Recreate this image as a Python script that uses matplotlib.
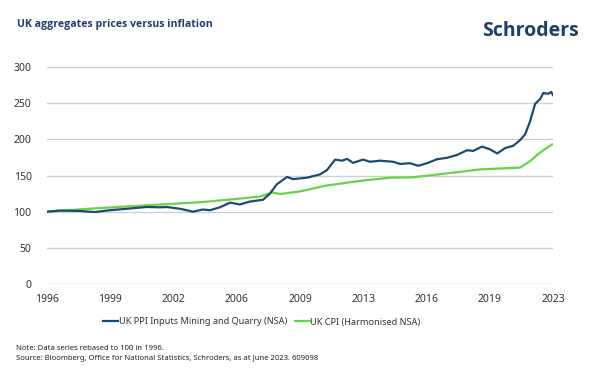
import matplotlib
matplotlib.use("Agg")
import matplotlib.pyplot as plt
import numpy as np

# ---- data (decimal years, index rebased to 100 in 1996) ----
ppi_years = [1996.00, 1996.70, 1997.79, 1998.60, 1999.41, 2000.34, 2001.42, 2002.12,
             2002.50, 2003.21, 2003.91, 2004.45, 2004.83, 2005.37, 2005.92, 2006.46,
             2007.00, 2007.71, 2008.08, 2008.46, 2009.01, 2009.33, 2010.09, 2010.79,
             2011.17, 2011.61, 2011.99, 2012.26, 2012.58, 2013.12, 2013.50, 2014.05,
             2014.75, 2015.13, 2015.67, 2016.11, 2016.59, 2017.13, 2017.68, 2018.22,
             2018.76, 2019.09, 2019.57, 2020.01, 2020.39, 2020.82, 2021.25, 2021.63,
             2021.90, 2022.17, 2022.44, 2022.72, 2022.88, 2023.15, 2023.31, 2023.42]
ppi_values = [100, 101.5, 101, 99.5, 102, 104, 106.5, 106,
              106.5, 104, 100, 103, 102, 106, 112.5, 110,
              114, 116.5, 125, 138, 148, 145, 147, 151.5,
              157.5, 172, 170.5, 173, 167.5, 172, 169, 170.5,
              169, 166, 167, 163.5, 167, 172.5, 174.5, 178.5,
              185, 184, 190, 186, 180.5, 188, 191, 199,
              207, 225, 249, 256, 264, 263, 265.5, 261]

cpi_years = [1996.00, 1998.87, 2001.20, 2004.29, 2006.03, 2007.55, 2008.20, 2008.64,
             2009.72, 2011.12, 2012.96, 2014.59, 2015.83, 2017.68, 2019.49, 2021.25,
             2021.63, 2022.17, 2022.72, 2023.36]
cpi_values = [100, 105, 108.5, 113, 117, 121, 126.5, 124.5,
              128, 136, 142.5, 147, 147.5, 153, 158.5, 160.5,
              161, 170, 182, 193]

tick_labels = ["1996", "1999", "2002", "2006", "2009", "2013", "2016", "2019", "2023"]
y_ticks = [0, 50, 100, 150, 200, 250, 300]

title = "UK aggregates prices versus inflation"
ppi_label = "UK PPI Inputs Mining and Quarry (NSA)"
cpi_label = "UK CPI (Harmonised NSA)"
note1 = "Note: Data series rebased to 100 in 1996."
note2 = "Source: Bloomberg, Office for National Statistics, Schroders, as at June 2023. 609098"

# ---- style ----
plt.rcParams['font.family'] = ['Noto Sans', 'DejaVu Sans']
bold_family = ['Open Sans', 'DejaVu Sans']
navy = "#1c3f6e"
ppi_color = "#1d4b70"
cpi_color = "#6ad14b"
text_color = "#333333"

fig = plt.figure(figsize=(6.0, 3.83), dpi=100)
ax = fig.add_axes([0.078, 0.2585, 0.844, 0.5665])

ax.plot(ppi_years, ppi_values, color=ppi_color, lw=1.6, label=ppi_label, zorder=3)
ax.plot(cpi_years, cpi_values, color=cpi_color, lw=1.6, label=cpi_label, zorder=2)

x0, x1 = ppi_years[0], ppi_years[-1]
ax.set_xlim(x0, x1)
ax.set_ylim(0, 300)
ax.set_yticks(y_ticks)
ax.set_xticks(np.linspace(x0, x1, len(tick_labels)))
ax.set_xticklabels(tick_labels)
ax.grid(axis='y', color="#d0d0d0", lw=1.0)
ax.set_axisbelow(True)
for s in ax.spines.values():
    s.set_visible(False)
ax.tick_params(axis='both', length=0, labelsize=7.5, labelcolor=text_color)
ax.tick_params(axis='y', pad=11)
ax.tick_params(axis='x', pad=7)

leg = fig.legend(loc='center', bbox_to_anchor=(262 / 600, 1 - 322 / 383), ncol=2, frameon=False,
                 fontsize=6.6, handlelength=1.6, handletextpad=0.05, columnspacing=0.9)
for t in leg.get_texts():
    t.set_color(text_color)

fig.text(17 / 600, 1 - 24 / 383, title, fontsize=7.6, fontweight='bold', color=navy,
         va='center', ha='left', family=bold_family)
fig.text(579 / 600, 1 - 31 / 383, "Schroders", fontsize=14, fontweight='bold', color=navy,
         va='center', ha='right', family=bold_family)
fig.text(16 / 600, 1 - 348 / 383, note1, fontsize=5.5, color="#222222", va='center', ha='left')
fig.text(16 / 600, 1 - 359 / 383, note2, fontsize=5.5, color="#222222", va='center', ha='left')

fig.savefig("out.png", dpi=100)
